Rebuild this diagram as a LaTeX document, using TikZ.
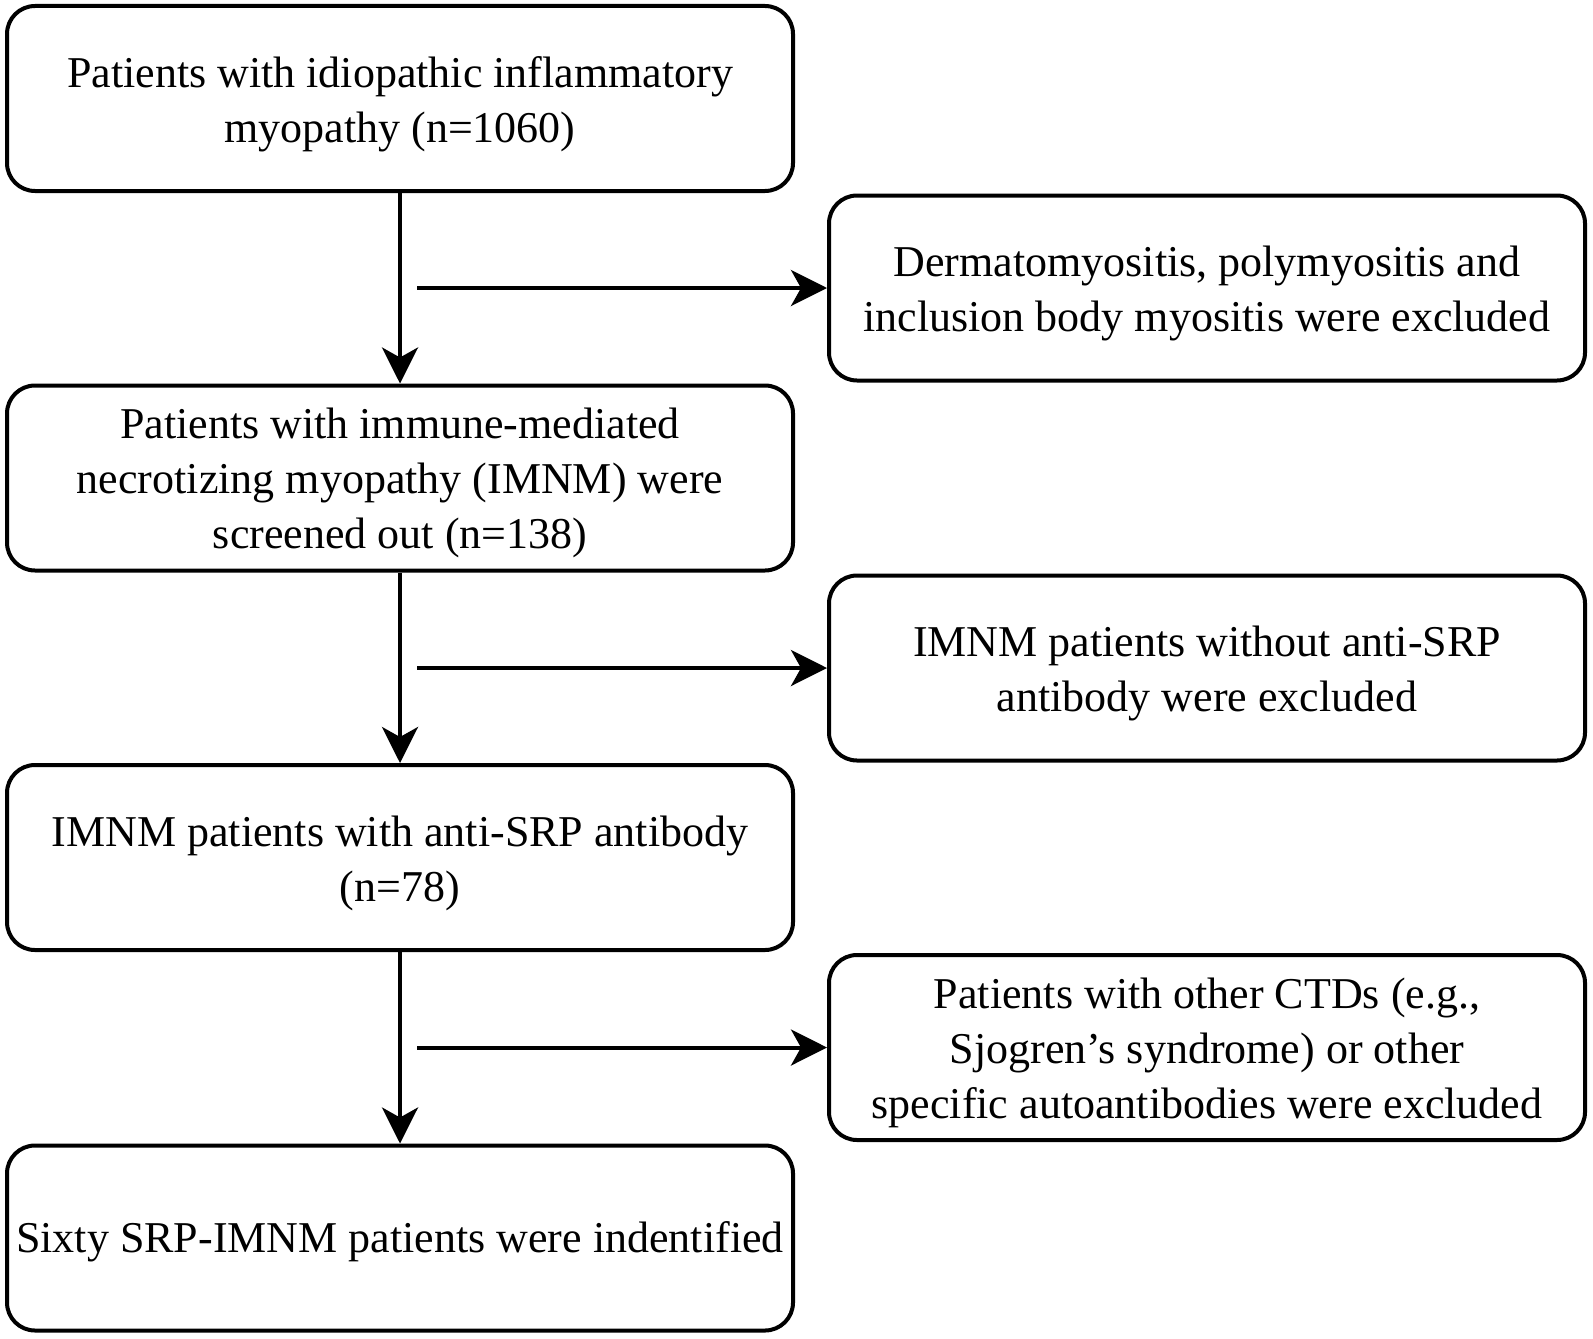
\documentclass[tikz,border=0pt]{standalone}
\usepackage{fontspec}
\setmainfont{Liberation Serif}
\usetikzlibrary{arrows.meta}
\begin{document}
\begin{tikzpicture}[x=0.5pt,y=-0.5pt,
  box/.style={draw=black, line width=2pt, rounded corners=14pt, fill=white,
    inner sep=0pt},
  lbox/.style={box, minimum width=393pt, minimum height=92.5pt},
  rbox/.style={box, minimum width=378pt, minimum height=92.5pt},
  txt/.style={inner sep=0pt, align=center, font=\fontsize{22}{27.5}\selectfont},
  arr/.style={line width=2pt, -{Stealth[length=18pt,width=18pt,inset=5pt]}}]
\useasboundingbox (0,0) rectangle (1593,1338);
\node[lbox] (b1) at (400,98.5) {};
\node[lbox] (b2) at (400,478) {};
\node[lbox] (b3) at (400,857.5) {};
\node[lbox] (b4) at (400,1238) {};
\node[rbox] (r1) at (1207,288) {};
\node[rbox] (r2) at (1207,668) {};
\node[rbox] (r3) at (1207,1047.5) {};
\node[txt] (t1) at ([yshift=-3pt]b1.center) {Patients with idiopathic inflammatory\\myopathy (n=1060)};
\node[txt] (t2) at ([yshift=-2.5pt]b2.center) {Patients with immune-mediated\\necrotizing myopathy (IMNM) were\\screened out (n=138)};
\node[txt] (t3) at ([yshift=-3pt]b3.center) {IMNM patients with anti-SRP antibody\\(n=78)};
\node[txt] (t4) at ([yshift=-2pt]b4.center) {Sixty SRP-IMNM patients were indentified};
\node[txt] (u1) at ([yshift=-2.5pt]r1.center) {Dermatomyositis, polymyositis and\\inclusion body myositis were excluded};
\node[txt] (u2) at ([yshift=-2.5pt]r2.center) {IMNM patients without anti-SRP\\antibody were excluded};
\node[txt] (u3) at ([yshift=-2.5pt]r3.center) {Patients with other CTDs (e.g.,\\Sjogren's syndrome) or other\\specific autoantibodies were excluded};
\coordinate (s1) at (417,288);
\coordinate (s2) at (417,668);
\coordinate (s3) at (417,1047.5);
\draw[arr] (b1.south) -- (b2.north);
\draw[arr] (b2.south) -- (b3.north);
\draw[arr] (b3.south) -- (b4.north);
\draw[arr] (s1) -- (r1.west);
\draw[arr] (s2) -- (r2.west);
\draw[arr] (s3) -- (r3.west);
\end{tikzpicture}
\end{document}
